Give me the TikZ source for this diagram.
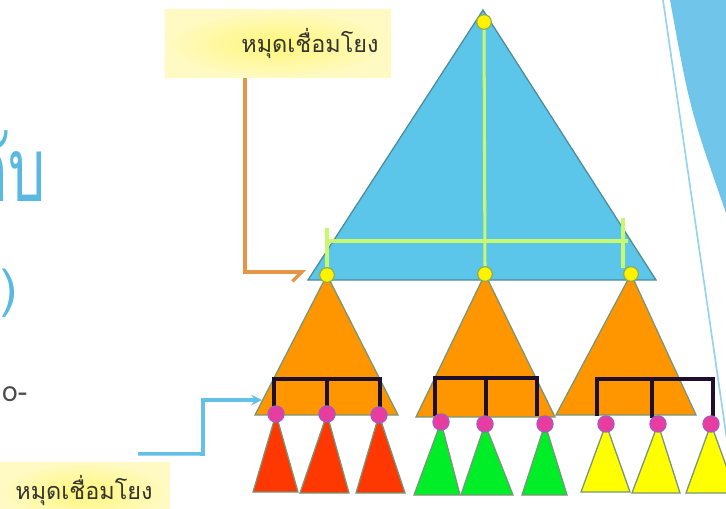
\documentclass[tikz,border=0pt]{standalone}
\usepackage{fontspec}
\newfontfamily\thaifont[Script=Thai]{Loma}
\usetikzlibrary{positioning, calc}
\usetikzlibrary{arrows.meta}
\definecolor{skyblue}{RGB}{91,197,234}
\definecolor{skyedge}{RGB}{80,140,150}
\definecolor{treeorange}{RGB}{255,150,0}
\definecolor{treered}{RGB}{255,55,0}
\definecolor{treegreen}{RGB}{0,238,40}
\definecolor{treeyellow}{RGB}{255,255,0}
\definecolor{treeedge}{RGB}{120,150,120}
\definecolor{linkgreen}{RGB}{200,248,110}
\definecolor{dotpink}{RGB}{232,60,160}
\definecolor{dotedge}{RGB}{170,90,190}
\definecolor{bracketink}{RGB}{30,15,45}
\definecolor{notefill}{RGB}{255,250,195}
\definecolor{noteglow}{RGB}{255,246,120}
\definecolor{arroworange}{RGB}{228,150,70}
\definecolor{arrowblue}{RGB}{100,192,232}
\definecolor{titleblue}{RGB}{90,185,225}
\definecolor{decoblue}{RGB}{112,198,234}

\begin{document}
\begin{tikzpicture}[>=stealth, x=0.03cm, y=-0.03cm,
  bigtri/.style={fill=skyblue, draw=skyedge, line width=1.1pt},
  midtri/.style={fill=treeorange, draw=treeedge, line width=1.1pt},
  redtri/.style={fill=treered, draw=treeedge, line width=1.1pt},
  greentri/.style={fill=treegreen, draw=treeedge, line width=1.1pt},
  yellowtri/.style={fill=treeyellow, draw=treeedge, line width=1.1pt},
  link/.style={linkgreen, line width=2.6pt},
  yeldot/.style={circle, fill=yellow, draw=linkgreen!70!black, line width=1pt, minimum size=0.44cm, inner sep=0pt},
  pinkdot/.style={circle, fill=dotpink, draw=dotedge, line width=1.2pt, minimum size=0.48cm, inner sep=0pt},
  bracket/.style={bracketink, line width=2.8pt},
  notebox/.style={rectangle, inner color=noteglow, outer color=notefill, draw=none},
  notetext/.style={font=\thaifont\fontsize{20}{24}\selectfont, text=black!80}]

\useasboundingbox (0,0) rectangle (726,509);
\clip (0,0) rectangle (726,509);

%------------------------------------------------
% sfondo della slide: testo tagliato e fascia blu
%------------------------------------------------
\node[anchor=base east, text=titleblue, font=\thaifont\fontsize{76}{80}\selectfont] (title1) at (50,202) {\scalebox{0.66}[1]{กับ}};
\node[anchor=base east, text=titleblue, font=\thaifont\fontsize{44}{50}\selectfont] (title2) at (22,306) {)};
\node[anchor=base west, text=black!70, font=\thaifont\fontsize{24}{28}\selectfont] (title3) at (-2,401) {o-};
\fill[decoblue] (670,0) .. controls (690,110) .. (726,213) -- (726,0) -- cycle;
\draw[arrowblue!70, line width=1.4pt] (663,0) -- (737,509);

%------------------------------------------------
% albero grande
%------------------------------------------------
\draw[bigtri] (483,10) -- (308,280) -- (656,280) -- cycle;
\coordinate (cornerL) at (308,280);

% linee di collegamento
\draw[link] (327,241) -- (628,241);
\draw[link] (327,228) -- (327,270);
\draw[link] (623,218) -- (623,268);
\draw[link] (484,22) -- (485,270);

% sottoalberi arancioni
\draw[midtri] (327,275) -- (255,415) -- (398,415) -- cycle;
\draw[midtri] (485,274) -- (416,417) -- (555,417) -- cycle;
\draw[midtri] (631,274) -- (556,415) -- (696,415) -- cycle;

% perni gialli
\node[yeldot] (topdot) at (484,22) {};
\node[yeldot] (dotL) at (327,275) {};
\node[yeldot] (dotM) at (485,274) {};
\node[yeldot] (dotR) at (631,274) {};

%------------------------------------------------
% foglie
%------------------------------------------------
\draw[redtri] (276,414) -- (253,492) -- (298,492) -- cycle;
\draw[redtri] (327,414) -- (300,493) -- (349,493) -- cycle;
\draw[redtri] (379,415) -- (356,493) -- (405,493) -- cycle;
\draw[greentri] (441,422) -- (414,495) -- (460,495) -- cycle;
\draw[greentri] (485,424) -- (461,495) -- (513,495) -- cycle;
\draw[greentri] (545,424) -- (522,495) -- (567,495) -- cycle;
\draw[yellowtri] (606,424) -- (581,492) -- (630,492) -- cycle;
\draw[yellowtri] (658,424) -- (632,493) -- (680,493) -- cycle;
\draw[yellowtri] (711,424) -- (686,493) -- (736,493) -- cycle;

% parentesi nere
\draw[bracket] (274,410) |- (380,379) -- (380,410);
\draw[bracket] (327,379) -- (327,410);
\draw[bracket] (435,416) |- (537,378) -- (537,416);
\draw[bracket] (486,378) -- (486,418);
\draw[bracket] (597,416) |- (713,379) -- (713,418);
\draw[bracket] (652,379) -- (652,418);

% perni rosa
\node[pinkdot] (leafA) at (276,414) {};
\node[pinkdot] (leafB) at (327,414) {};
\node[pinkdot] (leafC) at (379,415) {};
\node[pinkdot] (leafD) at (441,422) {};
\node[pinkdot] (leafE) at (485,424) {};
\node[pinkdot] (leafF) at (545,424) {};
\node[pinkdot] (leafG) at (606,424) {};
\node[pinkdot] (leafH) at (658,424) {};
\node[pinkdot] (leafI) at (711,424) {};

%------------------------------------------------
% etichette e frecce
%------------------------------------------------
\node[notebox, minimum width=6.78cm, minimum height=2.04cm] (topnote) at (278,44) {};
\node[notetext] (toptext) at (310,44) {หมุดเชื่อมโยง};
\node[notebox, minimum width=5.1cm, minimum height=1.8cm] (botnote) at (85,492) {};
\node[notetext] (bottext) at (84,491) {หมุดเชื่อมโยง};

\draw[arroworange, line width=3pt, -{Straight Barb[right, length=8pt]}]
  (topnote.south -| 245,0) |- ($(cornerL)+(-2,-8)$);
\draw[arrowblue, line width=3pt, ->]
  ($(botnote.north east)+(-32,-8)$) -- (203,454) |- (262,400);

\end{tikzpicture}
\end{document}
